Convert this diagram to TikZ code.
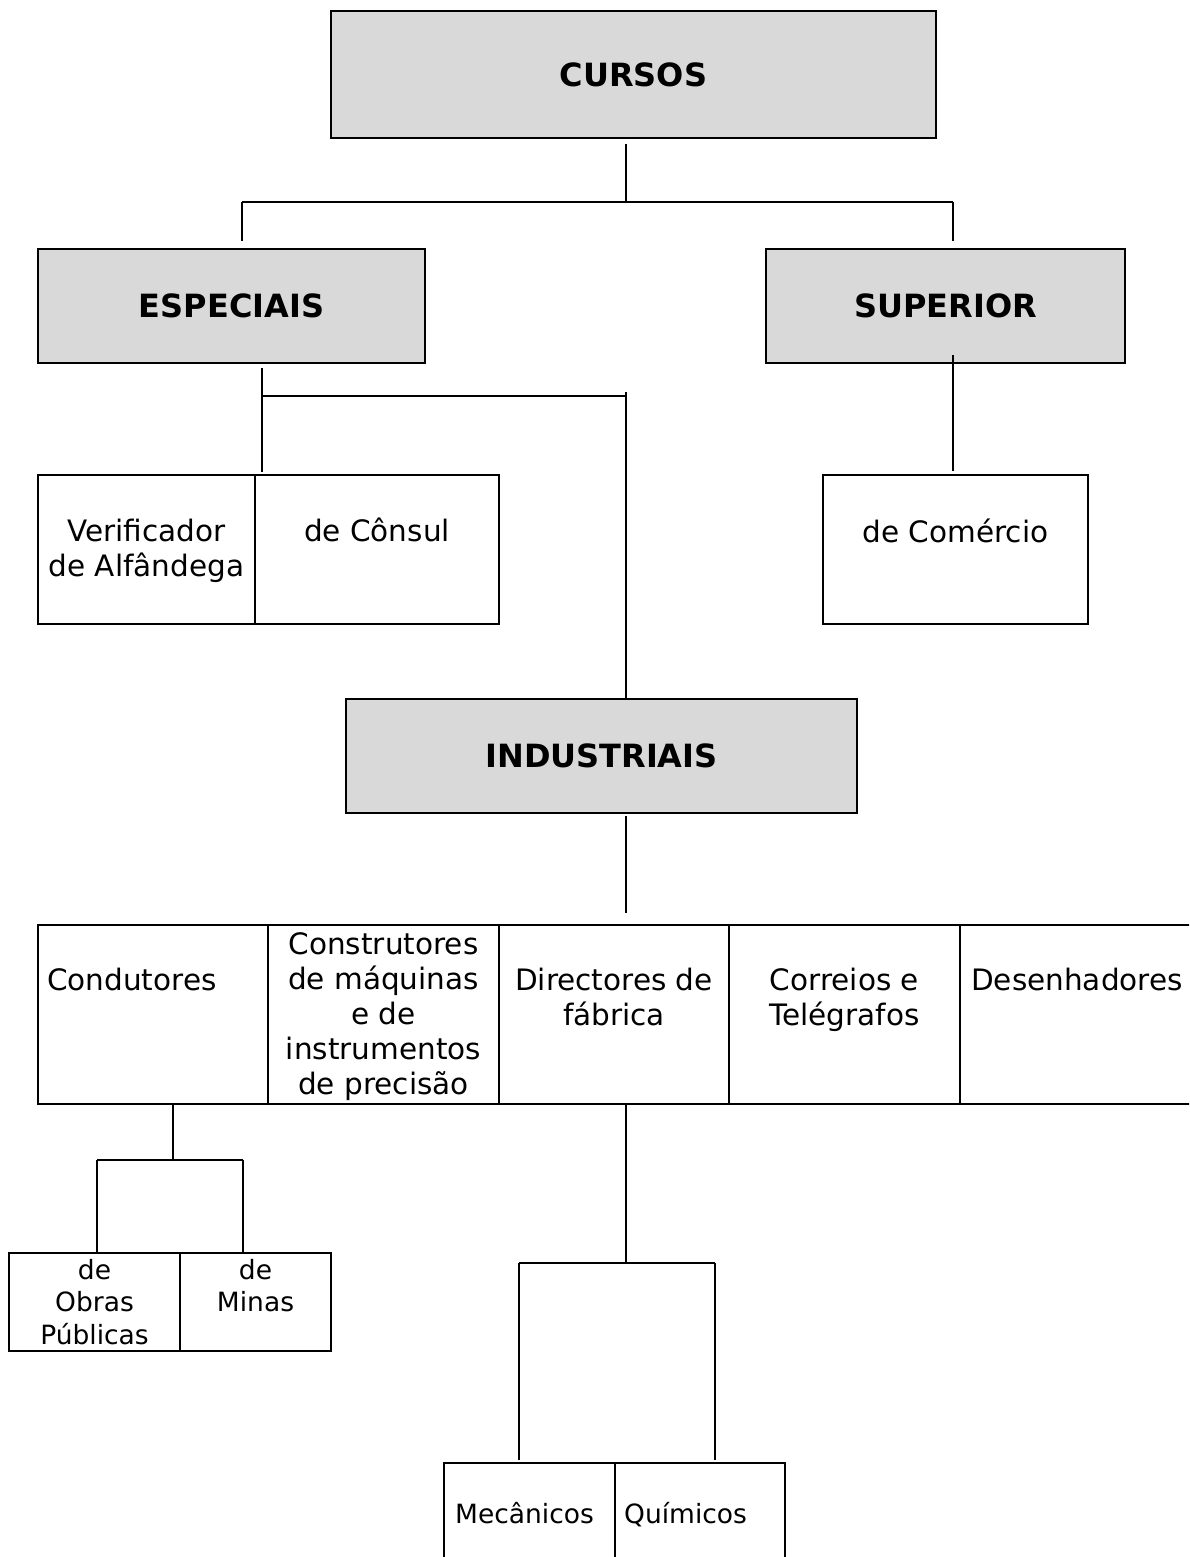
\documentclass[tikz,border=0pt]{standalone}
\usepackage{fontspec}
\setmainfont{DejaVu Sans}
\usetikzlibrary{calc}
\definecolor{boxgrey}{HTML}{D9D9D9}
\newcommand\txtbody{\fontsize{29.5}{35}\selectfont}
\newcommand\txtsmall{\fontsize{26.5}{32.5}\selectfont}
\newcommand\txthead{\fontsize{32}{38}\selectfont\bfseries}
% centred lines whose baseline is the baseline of the first line
\newcommand\cellstack[1]{\vtop{\let\\\cr\halign{\hfil##\hfil\cr#1\crcr}}}
\begin{document}
\begin{tikzpicture}[x=1pt, y=-1pt,
  headbox/.style={draw, line width=2.6pt, fill=boxgrey, inner sep=0pt, outer sep=0pt, anchor=north west, font=\txthead},
  cellbox/.style={draw, line width=2.4pt, inner sep=0pt, outer sep=0pt, anchor=north west},
  lbl/.style={inner sep=0pt, font=\txtbody},
  lblsmall/.style={inner sep=0pt, font=\txtsmall},
  link/.style={line width=1.8pt}]
\clip (0,0) rectangle (1189,1557);
\fill[white] (0,0) rectangle (1189,1557);

% ---- top level
\node[headbox, minimum width=605pt, minimum height=127pt] (cursos) at (331,11) {CURSOS};
\node[headbox, minimum width=387pt, minimum height=114pt] (especiais) at (38,249) {ESPECIAIS};
\node[headbox, minimum width=359pt, minimum height=114pt] (superior) at (766,249) {SUPERIOR};
\node[headbox, minimum width=511pt, minimum height=114pt] (industriais) at (346,699) {INDUSTRIAIS};

% ---- special courses
\node[cellbox, minimum width=217pt, minimum height=149pt] (verif) at (38,475) {};
\node[cellbox, minimum width=244pt, minimum height=149pt] (consul) at (255,475) {};
\node[lbl, anchor=base] (verifT) at (146.5,541) {\cellstack{Verificador\\de Alfândega}};
\node[lbl, anchor=base] (consulT) at (377,541) {de Cônsul};

% ---- higher course
\node[cellbox, minimum width=265pt, minimum height=149pt] (comercio) at (823,475) {};
\node[lbl, anchor=base] (comercioT) at (955.5,542) {de Comércio};

% ---- industrial courses
\node[cellbox, minimum width=230pt, minimum height=179pt] (cond) at (38,925) {};
\node[cellbox, minimum width=231pt, minimum height=179pt] (constr) at (268,925) {};
\node[cellbox, minimum width=230pt, minimum height=179pt] (direct) at (499,925) {};
\node[cellbox, minimum width=231pt, minimum height=179pt] (correios) at (729,925) {};
\node[cellbox, minimum width=260pt, minimum height=179pt] (desenh) at (960,925) {};
\node[lbl, anchor=base west] (condT) at (47,990) {Condutores};
\node[lbl, anchor=base] (constrT) at (383.5,954.5)
  {\cellstack{Construtores\\de máquinas\\e de\\instrumentos\\de precisão}};
\node[lbl, anchor=base] (directT) at (614,990) {\cellstack{Directores de\\fábrica}};
\node[lbl, anchor=base] (correiosT) at (844.5,990) {\cellstack{Correios e\\Telégrafos}};
\node[lbl, anchor=base west] (desenhT) at (971,990) {Desenhadores};

% ---- conductors
\node[cellbox, minimum width=171pt, minimum height=98pt] (obras) at (9,1253) {};
\node[cellbox, minimum width=151pt, minimum height=98pt] (minas) at (180,1253) {};
\node[lblsmall, anchor=base] (obrasT) at (94.5,1279) {\cellstack{de\\Obras\\Públicas}};
\node[lblsmall, anchor=base] (minasT) at (255.5,1279) {\cellstack{de\\Minas}};

% ---- factory directors
\node[cellbox, minimum width=171pt, minimum height=110pt] (mec) at (444,1463) {};
\node[cellbox, minimum width=170pt, minimum height=110pt] (quim) at (615,1463) {};
\node[lblsmall, anchor=base west] (mecT) at (455,1523) {Mecânicos};
\node[lblsmall, anchor=base west] (quimT) at (624,1523) {Químicos};

% ---- junction points
\coordinate (cM) at (626,202);
\coordinate (cL) at (242,202);
\coordinate (cR) at (953,202);
\coordinate (eL) at (262,396);
\coordinate (eR) at (626,396);
\coordinate (kL) at (97,1160);
\coordinate (kM) at (173,1160);
\coordinate (kR) at (243,1160);
\coordinate (dL) at (519,1263);
\coordinate (dM) at (626,1263);
\coordinate (dR) at (715,1263);

% ---- connectors
\draw[link] ($(cM |- cursos.south)+(0,6)$) -- (cM);
\draw[link] (cL) -- (cR);
\draw[link] (cL) -- ($(cL |- especiais.north)+(0,-8)$);
\draw[link] (cR) -- ($(cR |- superior.north)+(0,-8)$);

\draw[link] ($(eL |- especiais.south)+(0,5)$) -- ($(eL |- verif.north)+(0,-3)$);
\draw[link] (eL) -- (eR);
\draw[link] ($(eR)+(0,-4)$) -- (eR |- industriais.north);

\draw[link] ($(cR |- superior.south)+(0,-8)$) -- ($(cR |- comercio.north)+(0,-4)$);

\draw[link] ($(eR |- industriais.south)+(0,3)$) -- ($(eR |- direct.north)+(0,-12)$);

\draw[link] (kM |- cond.south) -- (kM);
\draw[link] (kL) -- (kR);
\draw[link] (kL) -- (kL |- obras.north);
\draw[link] (kR) -- (kR |- minas.north);

\draw[link] (dM |- direct.south) -- (dM);
\draw[link] (dL) -- (dR);
\draw[link] (dL) -- ($(dL |- mec.north)+(0,-3)$);
\draw[link] (dR) -- ($(dR |- quim.north)+(0,-3)$);
\end{tikzpicture}
\end{document}
